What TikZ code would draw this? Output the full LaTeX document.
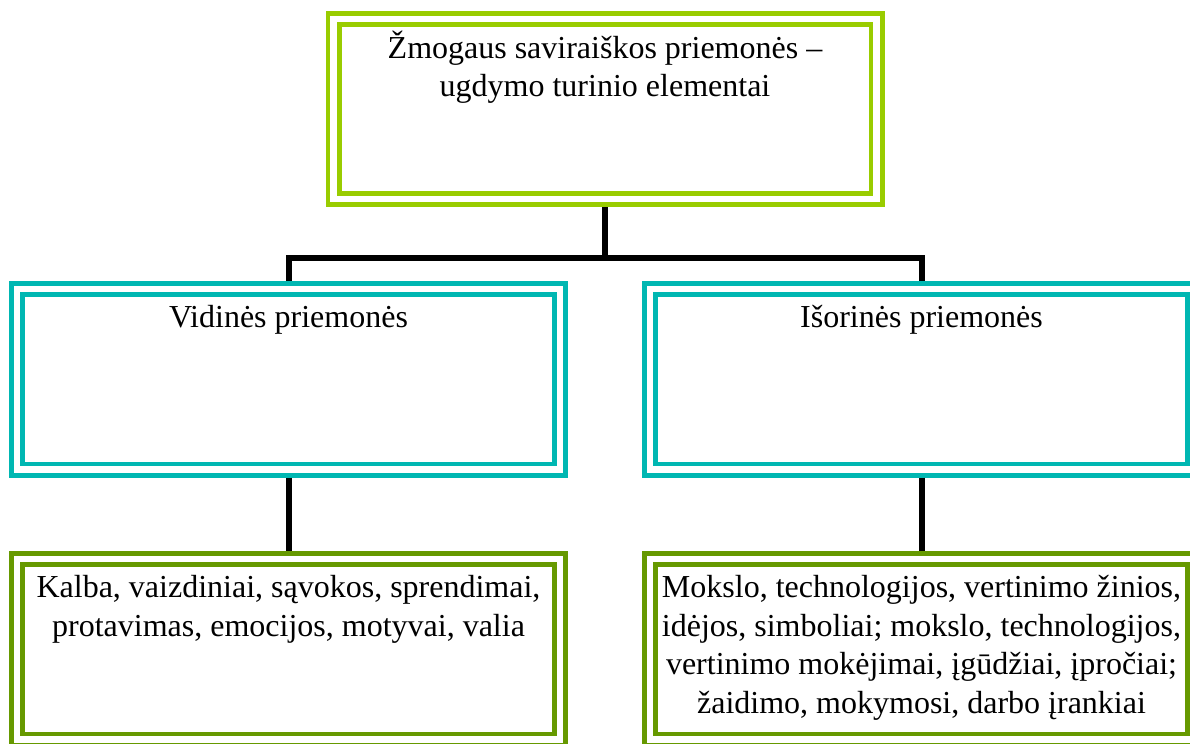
\documentclass[tikz,border=0pt]{standalone}
\usepackage{fontspec}
\setmainfont{Liberation Serif}
\definecolor{limegr}{RGB}{153,204,0}
\definecolor{tealbl}{RGB}{0,183,178}
\definecolor{olivegr}{RGB}{102,153,0}
\newcommand{\boxtext}[1]{\parbox[c][78.25pt][t]{266pt}{\centering\strut #1}}
\tikzset{
  box/.style={draw=#1, line width=2.4pt, double=white, double distance=3.2pt,
    minimum width=271.5pt, minimum height=90.25pt, inner sep=0pt, outer sep=4pt,
    font=\fontsize{16}{19.25}\selectfont},
  conn/.style={line width=3pt}
}
\begin{document}
\begin{tikzpicture}[x=0.5pt,y=-0.5pt]
\useasboundingbox (0,0) rectangle (1190,744);
\node[box=limegr] (top) at (605,109) {\boxtext{Žmogaus saviraiškos priemonės –\\ugdymo turinio elementai}};
\node[box=tealbl] (vid) at (288.5,379.25) {\boxtext{Vidinės priemonės}};
\node[box=tealbl] (isor) at (921.5,379.25) {\boxtext{Išorinės priemonės}};
\node[box=olivegr] (videl) at (288.5,649.25) {\boxtext{Kalba, vaizdiniai, sąvokos, sprendimai,\\protavimas, emocijos, motyvai, valia}};
\node[box=olivegr] (isorel) at (921.5,649.25) {\boxtext{Mokslo, technologijos, vertinimo žinios,\\idėjos, simboliai; mokslo, technologijos,\\vertinimo mokėjimai, įgūdžiai, įpročiai;\\žaidimo, mokymosi, darbo įrankiai}};
\coordinate (fork) at (605,257.5);
\draw[conn] (top.south) -- (fork);
\draw[conn] (vid.north) |- (fork) -| (isor.north);
\draw[conn] (vid.south) -- (videl.north);
\draw[conn] (isor.south) -- (isorel.north);
\end{tikzpicture}
\end{document}
